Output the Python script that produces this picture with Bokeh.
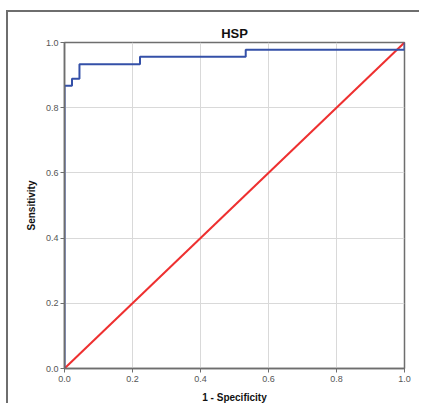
from bokeh.plotting import figure
from bokeh.models import FixedTicker, NumeralTickFormatter
from bokeh.embed import file_html
from bokeh.resources import INLINE

# ROC curve points (1 - Specificity, Sensitivity)
fpr = [0.0, 0.0, 0.022, 0.022, 0.044, 0.044, 0.222, 0.222, 0.533, 0.533, 1.0, 1.0]
tpr = [0.0, 0.867, 0.867, 0.889, 0.889, 0.933, 0.933, 0.956, 0.956, 0.978, 0.978, 1.0]
ref_x = [0.0, 1.0]
ref_y = [0.0, 1.0]
ticks = [0.0, 0.2, 0.4, 0.6, 0.8, 1.0]

p = figure(width=413, height=393, output_backend="svg", toolbar_location=None,
           x_range=(0, 1), y_range=(0, 1), title="HSP",
           min_border_left=56, min_border_top=30, min_border_right=17, min_border_bottom=35)
p.styles = {"border-left": "2px solid #6e6e6e", "border-top": "2px solid #6e6e6e",
            "margin-top": "10px", "margin-left": "6px"}

p.title.align = "center"
p.title.text_font = "Liberation Sans"
p.title.text_font_size = "13px"
p.title.text_font_style = "bold"
p.title.text_color = "#111111"
p.title.offset = 0
p.title.standoff = 4

for ax in (p.xaxis[0], p.yaxis[0]):
    ax.ticker = FixedTicker(ticks=ticks)
    ax.formatter = NumeralTickFormatter(format="0.0")
    ax.minor_tick_line_color = None
    ax.major_tick_out = 4
    ax.major_tick_in = 0
    ax.axis_line_color = "#6e6e6e"
    ax.axis_line_width = 1.5
    ax.major_tick_line_color = "#6e6e6e"
    ax.major_label_text_font = "Liberation Sans"
    ax.major_label_text_font_size = "9px"
    ax.major_label_text_color = "#555555"
    ax.axis_label_text_font = "Liberation Sans"
    ax.axis_label_text_font_size = "10px"
    ax.axis_label_text_font_style = "bold"
    ax.axis_label_text_color = "#111111"

p.xaxis.axis_label = "1 - Specificity"
p.yaxis.axis_label = "Sensitivity"
p.xaxis.major_label_standoff = 3
p.yaxis.major_label_standoff = 2
p.xaxis.axis_label_standoff = 7
p.yaxis.axis_label_standoff = 6

p.grid.ticker = FixedTicker(ticks=ticks)
p.grid.grid_line_color = "#d9d9d9"
p.grid.grid_line_width = 1
p.outline_line_color = "#6e6e6e"
p.outline_line_width = 1.5

p.line(ref_x, ref_y, line_color="#ee3030", line_width=2)
p.line(fpr, tpr, line_color="#3450a8", line_width=2)

open("out.html", "w").write(file_html(p, INLINE))
